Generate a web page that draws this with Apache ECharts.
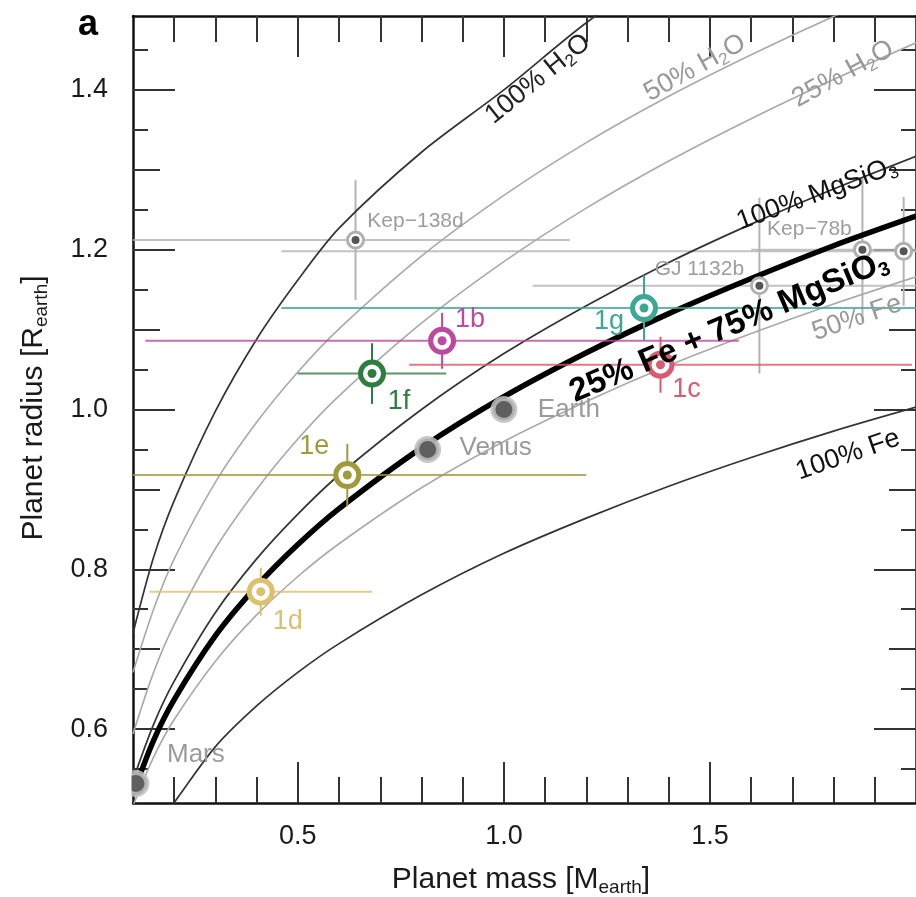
<!DOCTYPE html>
<html>
<head>
<meta charset="utf-8">
<script src="https://cdn.jsdelivr.net/npm/echarts@6/dist/echarts.min.js"></script>
<style>html,body{margin:0;padding:0;background:#fff}#c{width:916px;height:897px}</style>
</head>
<body>
<div id="c"></div>
<script>
// ---------- data ----------
const massGrid = [0.1, 0.15, 0.2, 0.3, 0.4, 0.5, 0.6, 0.8, 1.0, 1.2, 1.4, 1.6, 1.8, 2.0];
const radiusH2O100 = [0.72, 0.815, 0.886, 0.998, 1.088, 1.162, 1.227, 1.322, 1.400, 1.484, 1.555];
const radiusH2O50  = [0.671, 0.750, 0.813, 0.909, 0.984, 1.047, 1.101, 1.192, 1.268, 1.334, 1.392, 1.444, 1.492, 1.536];
const radiusH2O25  = [0.594, 0.671, 0.731, 0.826, 0.900, 0.963, 1.017, 1.108, 1.185, 1.252, 1.311, 1.364, 1.413, 1.459];
const radiusMgSiO3 = [0.536, 0.606, 0.660, 0.746, 0.813, 0.869, 0.918, 1.000, 1.070, 1.130, 1.184, 1.232, 1.276, 1.317];
const radiusFe25   = [0.519, 0.586, 0.637, 0.717, 0.779, 0.831, 0.876, 0.952, 1.016, 1.071, 1.120, 1.164, 1.205, 1.242];
const radiusFe50   = [0.504, 0.565, 0.612, 0.685, 0.743, 0.791, 0.832, 0.902, 0.960, 1.010, 1.055, 1.095, 1.132, 1.166];
const radiusFe100  = [0.420, 0.473, 0.508, 0.578, 0.629, 0.671, 0.707, 0.768, 0.820, 0.864, 0.904, 0.940, 0.973, 1.003];

const trappistNames    = ['1b', '1c', '1d', '1e', '1f', '1g'];
const trappistMass     = [0.85, 1.38, 0.41, 0.62, 0.68, 1.34];
const trappistRadius   = [1.086, 1.056, 0.772, 0.918, 1.045, 1.127];
const trappistMassLo   = [0.13, 0.77, 0.14, 0.04, 0.50, 0.46];
const trappistMassHi   = [1.57, 1.99, 0.68, 1.20, 0.86, 2.22];
const trappistRadiusLo = [1.051, 1.021, 0.742, 0.879, 1.007, 1.086];
const trappistRadiusHi = [1.121, 1.091, 0.802, 0.957, 1.083, 1.168];

const solarNames  = ['Earth', 'Venus', 'Mars'];
const solarMass   = [1.0, 0.815, 0.107];
const solarRadius = [1.0, 0.95, 0.532];

const exoNames    = ['Kep\u2212138d', 'GJ 1132b', 'Kep\u221278b', ''];
const exoMass     = [0.64, 1.62, 1.87, 1.97];
const exoRadius   = [1.212, 1.155, 1.20, 1.198];
const exoMassLo   = [0.05, 1.07, 1.60, 0.46];
const exoMassHi   = [1.16, 2.17, 2.14, 3.40];
const exoRadiusLo = [1.137, 1.045, 1.11, 1.13];
const exoRadiusHi = [1.287, 1.265, 1.29, 1.266];

const xMajorTicks = [0.5, 1.0, 1.5];
const xMinorTicks = [0.2, 0.3, 0.4, 0.6, 0.7, 0.8, 0.9, 1.1, 1.2, 1.3, 1.4, 1.6, 1.7, 1.8, 1.9];
const yMajorTicks = [0.6, 0.8, 1.0, 1.2, 1.4];
const yMidTicks   = [0.7, 0.9, 1.1, 1.3];
const yMinorTicks = [0.55, 0.65, 0.75, 0.85, 0.95, 1.05, 1.15, 1.25, 1.35, 1.45];

// ---------- styling ----------
const FONT = '"Liberation Sans", Arial, Helvetica, sans-serif';
const trappistColors = ['#bd4a9e', '#da5a6f', '#dcc06c', '#a19a3c', '#2f7d40', '#3ba893'];
const trappistLabelOffset = [[28, -21], [26, 25], [27, 30], [-33, -28], [27, 28], [-35, 14]];
const solarLabelOffset = [[65, 0], [68, -2], [60, -29]];
const exoLabelOffset = [[60, -19], [-60, -16], [-53, -20], [0, 0]];

const X_MIN = 0.1, X_MAX = 2.0, Y_MIN = 0.5075, Y_MAX = 1.4925;

function zip(xs, ys) { return ys.map((y, i) => [xs[i], y]); }

function xAx(pos, ticks, len, withLabels, withLine) {
  return {
    type: 'value', position: pos, min: X_MIN, max: X_MAX, gridIndex: 0,
    splitLine: { show: false },
    axisLine: { show: withLine, onZero: false, lineStyle: { color: '#111', width: 2.5 } },
    axisTick: { show: true, inside: true, length: len, customValues: ticks, lineStyle: { color: '#333', width: 2 } },
    axisLabel: withLabels ? {
      show: true, customValues: ticks, margin: 20, fontSize: 27, fontFamily: FONT, color: '#1a1a1a',
      formatter: v => Number(v).toFixed(1)
    } : { show: false }
  };
}
function yAx(pos, ticks, len, withLabels, withLine) {
  return {
    type: 'value', position: pos, min: Y_MIN, max: Y_MAX, gridIndex: 0,
    splitLine: { show: false },
    axisLine: { show: withLine, onZero: false, lineStyle: { color: '#111', width: 2.5 } },
    axisTick: { show: true, inside: true, length: len, customValues: ticks, lineStyle: { color: '#333', width: 2 } },
    axisLabel: withLabels ? {
      show: true, customValues: ticks, margin: 25, fontSize: 27, fontFamily: FONT, color: '#1a1a1a',
      formatter: v => Number(v).toFixed(1)
    } : { show: false }
  };
}

function curve(arr, color, width, z) {
  return {
    type: 'line', data: zip(massGrid, arr), symbol: 'none', smooth: 0.3, silent: true,
    clip: true, z: z, lineStyle: { color: color, width: width }, xAxisIndex: 0, yAxisIndex: 0
  };
}

function errSeries(ms, rs, mlo, mhi, rlo, rhi, colors, width, z) {
  const data = ms.map((m, i) => [m, rs[i], mlo[i], mhi[i], rlo[i], rhi[i]]);
  return {
    type: 'custom', clip: true, silent: true, z: z, xAxisIndex: 0, yAxisIndex: 0,
    encode: { x: 0, y: 1 },
    data: data,
    renderItem: function (params, api) {
      const x = api.value(0), y = api.value(1);
      const p1 = api.coord([api.value(2), y]), p2 = api.coord([api.value(3), y]);
      const p3 = api.coord([x, api.value(4)]), p4 = api.coord([x, api.value(5)]);
      const c = colors[params.dataIndex];
      return {
        type: 'group', children: [
          { type: 'line', shape: { x1: p1[0], y1: p1[1], x2: p2[0], y2: p2[1] }, style: { stroke: c, lineWidth: width, opacity: 0.8 } },
          { type: 'line', shape: { x1: p3[0], y1: p3[1], x2: p4[0], y2: p4[1] }, style: { stroke: c, lineWidth: width } }
        ]
      };
    }
  };
}

function subText(x, y, deg, text, size, color, bold) {
  return {
    type: 'text', x: x, y: y, rotation: deg * Math.PI / 180, z: 50,
    style: {
      text: text, fill: color, fontSize: size, fontFamily: FONT, fontWeight: bold ? 'bold' : 'normal',
      align: 'center', verticalAlign: 'middle', lineHeight: size + 4,
      rich: { s: { fontSize: Math.round(size * 0.62), fontFamily: FONT, fontWeight: bold ? 'bold' : 'normal', fill: color, lineHeight: Math.round(size * 0.45), verticalAlign: 'bottom' } }
    }
  };
}

const gray = '#b3b3b3';
const exoColors = exoNames.map(() => gray);

const series = [
  errSeries(exoMass, exoRadius, exoMassLo, exoMassHi, exoRadiusLo, exoRadiusHi, exoColors, 2, 1),
  curve(radiusH2O50, '#a9a9a9', 1.6, 2),
  curve(radiusH2O25, '#a9a9a9', 1.6, 2),
  curve(radiusFe50, '#a9a9a9', 1.6, 2),
  curve(radiusH2O100, '#333', 1.7, 3),
  curve(radiusMgSiO3, '#333', 1.7, 3),
  curve(radiusFe100, '#333', 1.7, 3),
  curve(radiusFe25, '#000', 5.5, 4),
  errSeries(trappistMass, trappistRadius, trappistMassLo, trappistMassHi, trappistRadiusLo, trappistRadiusHi, trappistColors, 2, 5),
  // other exoplanet markers
  {
    type: 'scatter', z: 6, silent: true, symbol: 'circle', symbolSize: 16,
    data: exoMass.map((m, i) => ({
      value: [m, exoRadius[i]],
      label: { show: exoNames[i] !== '', formatter: exoNames[i], position: 'inside', offset: exoLabelOffset[i], fontSize: 21, fontFamily: FONT, color: '#9d9d9d' }
    })),
    itemStyle: { color: '#fff', borderColor: '#b0b0b0', borderWidth: 3, opacity: 1 }
  },
  {
    type: 'scatter', z: 7, silent: true, symbol: 'circle', symbolSize: 8,
    data: exoMass.map((m, i) => [m, exoRadius[i]]),
    itemStyle: { color: '#555', opacity: 1 }
  },
  // solar system planets
  {
    type: 'scatter', z: 6, silent: true, symbol: 'circle', symbolSize: 22,
    data: solarMass.map((m, i) => ({
      value: [m, solarRadius[i]],
      label: { show: true, formatter: solarNames[i], position: 'inside', offset: solarLabelOffset[i], fontSize: 26, fontFamily: FONT, color: '#9a9a9a' }
    })),
    itemStyle: { color: '#5f5f5f', borderColor: 'rgba(190,190,190,0.85)', borderWidth: 5, opacity: 1 }
  },
  // TRAPPIST-1 rings
  {
    type: 'scatter', z: 8, silent: true, symbol: 'circle', symbolSize: 23,
    data: trappistMass.map((m, i) => ({
      value: [m, trappistRadius[i]],
      itemStyle: { color: '#fff', borderColor: trappistColors[i], borderWidth: 5, opacity: 1 }
    }))
  },
  {
    type: 'scatter', z: 9, silent: true, symbol: 'circle', symbolSize: 9,
    data: trappistMass.map((m, i) => ({
      value: [m, trappistRadius[i]],
      itemStyle: { color: trappistColors[i], opacity: 1 },
      label: { show: true, formatter: trappistNames[i], position: 'inside', offset: trappistLabelOffset[i], fontSize: 27, fontFamily: FONT, color: trappistColors[i] }
    }))
  }
];

const option = {
  animation: false,
  backgroundColor: '#fff',
  grid: { left: 133, right: -4, top: 16, bottom: 94, containLabel: false },
  xAxis: [
    xAx('bottom', xMajorTicks, 41, true, true),
    xAx('bottom', xMinorTicks, 26, false, false),
    xAx('top', xMajorTicks, 41, false, true),
    xAx('top', xMinorTicks, 26, false, false)
  ],
  yAxis: [
    yAx('left', yMajorTicks, 42, true, true),
    yAx('left', yMidTicks, 27, false, false),
    yAx('left', yMinorTicks, 15, false, false),
    yAx('right', yMajorTicks, 42, false, true),
    yAx('right', yMidTicks, 27, false, false),
    yAx('right', yMinorTicks, 15, false, false)
  ],
  series: series,
  graphic: [
    { type: 'rect', z: 40, shape: { x: 96, y: 762, width: 35.5, height: 44 }, style: { fill: '#fff' } },
    { type: 'text', x: 88, y: 25, z: 50, style: { text: 'a', fill: '#000', fontSize: 36, fontWeight: 'bold', fontFamily: FONT, align: 'center', verticalAlign: 'middle' } },
    subText(521, 880, 0, 'Planet mass [M{s|earth}]', 30, '#1a1a1a', false),
    subText(34, 408, 90, 'Planet radius [R{s|earth}]', 30, '#1a1a1a', false),
    subText(538, 79, 39, '100% H{s|2}O', 27, '#222', false),
    subText(695, 68, 29, '50% H{s|2}O', 27, '#999', false),
    subText(843, 74, 29, '25% H{s|2}O', 27, '#999', false),
    subText(817, 194, 20, '100% MgSiO{s|3}', 27, '#111', false),
    subText(729, 327, 23, '25% Fe + 75% MgSiO{s|3}', 33, '#000', true),
    subText(857, 318, 19, '50% Fe', 27, '#999', false),
    subText(848, 455, 19, '100% Fe', 27, '#111', false)
  ]
};

const chart = echarts.init(document.getElementById('c'), null, { renderer: 'canvas' });
chart.setOption(option);
</script>
</body>
</html>
